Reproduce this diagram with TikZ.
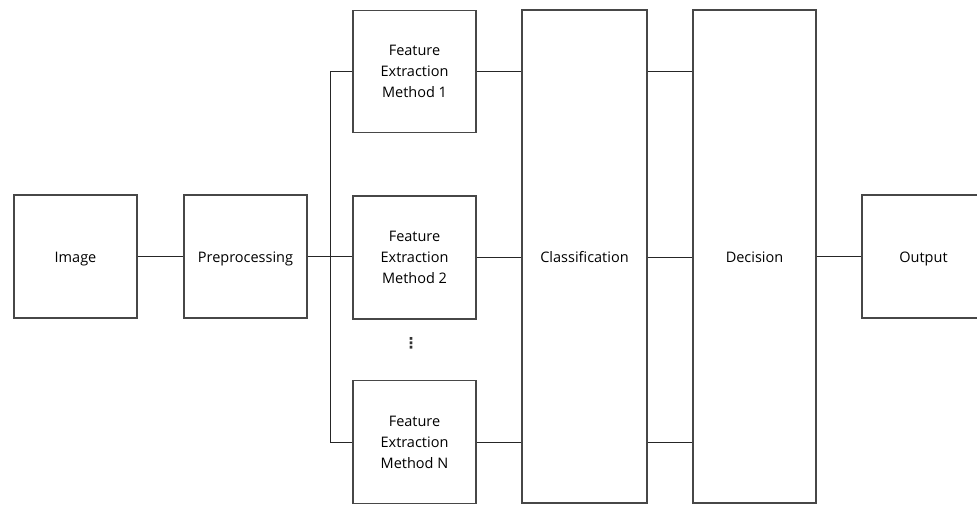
\documentclass[tikz,border=0pt]{standalone}
\usepackage{fontspec}
\setmainfont{Open Sans}
\newfontfamily\symfont{DejaVu Sans}
\begin{document}
\begin{tikzpicture}[x=1pt,y=-1pt,
  block/.style={draw=black!72, line width=1.3pt, fill=white, inner sep=0pt,
    minimum width=123pt, minimum height=123pt, align=center,
    font=\fontsize{14.5}{21}\selectfont},
  oneline/.style={text height=13pt, text depth=2pt},
  link/.style={draw=black!85, line width=1pt}]
\useasboundingbox (0,0) rectangle (977,504);

% blocks
\node[block, oneline] (img) at (75.5,256.5) {Image};
\node[block, oneline] (pre) at (245.5,256.5) {Preprocessing};
\node[block, minimum height=122pt] (fe1) at (414.5,71.5) {Feature\\Extraction\\Method 1};
\node[block] (fe2) at (414.5,257.5) {Feature\\Extraction\\Method 2};
\node[block] (fen) at (414.5,442) {Feature\\Extraction\\Method N};
\node[block, oneline, minimum width=125pt, minimum height=493pt] (cls) at (584.5,256.5) {Classification};
\node[block, oneline, minimum height=493pt] (dec) at (754.5,256.5) {Decision};
\node[block, oneline] (out) at (923.5,256.5) {Output};
\node[font=\symfont\bfseries\fontsize{15}{15}\selectfont, text=black!80, inner sep=0pt] (dots) at (411,343) {⋮};

% connectors
\coordinate (bus) at (330.5,256.5);
\draw[link] (img.east) -- (pre.west);
\draw[link] (pre.east) -- (pre.east -| fe2.west);
\draw[link] (fe1.west) -| (bus) |- (fen.west);
\draw[link] (fe1.east) -- (fe1.east -| cls.west);
\draw[link] (fe2.east) -- (fe2.east -| cls.west);
\draw[link] (fen.east) -- (fen.east -| cls.west);
\draw[link] (cls.east |- fe1) -- (dec.west |- fe1);
\draw[link] (cls.east |- fe2) -- (dec.west |- fe2);
\draw[link] (cls.east |- fen) -- (dec.west |- fen);
\draw[link] (dec.east) -- (out.west);
\end{tikzpicture}
\end{document}
